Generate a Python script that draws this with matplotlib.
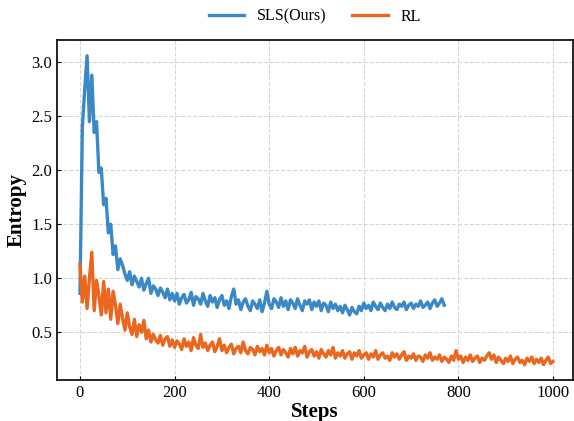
import numpy as np
import matplotlib
matplotlib.use("Agg")
import matplotlib.pyplot as plt

plt.rcParams["font.family"] = ["Liberation Serif", "DejaVu Serif"]

STEP = 5  # logging interval (training steps)

# policy entropy, SLS (ours)
sls_entropy = [
    0.86, 2.40, 2.75, 3.06, 2.45, 2.88, 2.35, 2.45, 1.98, 2.02,
    1.68, 1.74, 1.42, 1.50, 1.22, 1.30, 1.08, 1.18, 1.12, 1.04,
    0.98, 1.06, 0.94, 1.02, 0.97, 0.92, 1.00, 0.89, 0.95, 1.00,
    0.86, 0.93, 0.90, 0.84, 0.91, 0.87, 0.82, 0.90, 0.80, 0.86,
    0.79, 0.86, 0.76, 0.82, 0.85, 0.77, 0.80, 0.87, 0.75, 0.83,
    0.81, 0.76, 0.86, 0.79, 0.74, 0.84, 0.78, 0.82, 0.73, 0.80,
    0.84, 0.75, 0.79, 0.72, 0.83, 0.90, 0.76, 0.80, 0.71, 0.78,
    0.81, 0.74, 0.70, 0.79, 0.76, 0.72, 0.80, 0.69, 0.77, 0.88,
    0.76, 0.72, 0.81, 0.78, 0.73, 0.82, 0.74, 0.79, 0.71, 0.80,
    0.77, 0.72, 0.81, 0.75, 0.70, 0.79, 0.76, 0.80, 0.71, 0.78,
    0.74, 0.79, 0.70, 0.77, 0.75, 0.69, 0.78, 0.72, 0.76, 0.70,
    0.74, 0.68, 0.75, 0.71, 0.66, 0.73, 0.69, 0.67, 0.74, 0.70,
    0.77, 0.72, 0.75, 0.70, 0.78, 0.74, 0.71, 0.77, 0.73, 0.70,
    0.76, 0.72, 0.78, 0.73, 0.71, 0.76, 0.74, 0.78, 0.71, 0.75,
    0.77, 0.72, 0.76, 0.74, 0.79, 0.73, 0.75, 0.78, 0.72, 0.77,
    0.80, 0.74, 0.77, 0.81, 0.75,
]

# policy entropy, plain RL baseline
rl_entropy = [
    1.13, 0.78, 1.02, 0.72, 1.00, 1.24, 0.70, 0.98, 0.84, 0.66,
    0.97, 0.68, 0.90, 0.62, 0.88, 0.75, 0.58, 0.76, 0.63, 0.52,
    0.68, 0.55, 0.48, 0.62, 0.46, 0.57, 0.50, 0.61, 0.44, 0.52,
    0.41, 0.48, 0.43, 0.40, 0.47, 0.38, 0.44, 0.46, 0.37, 0.43,
    0.36, 0.42, 0.39, 0.34, 0.44, 0.37, 0.41, 0.33, 0.45, 0.38,
    0.35, 0.48, 0.36, 0.40, 0.33, 0.38, 0.41, 0.32, 0.37, 0.44,
    0.33, 0.38, 0.31, 0.36, 0.39, 0.30, 0.35, 0.37, 0.31, 0.41,
    0.33, 0.30, 0.36, 0.34, 0.29, 0.37, 0.32, 0.35, 0.29, 0.38,
    0.31, 0.35, 0.28, 0.33, 0.36, 0.29, 0.34, 0.31, 0.27, 0.35,
    0.30, 0.36, 0.28, 0.33, 0.31, 0.37, 0.27, 0.32, 0.34, 0.28,
    0.32, 0.26, 0.34, 0.30, 0.27, 0.33, 0.29, 0.36, 0.26, 0.31,
    0.28, 0.33, 0.26, 0.30, 0.32, 0.25, 0.31, 0.28, 0.33, 0.26,
    0.29, 0.31, 0.25, 0.30, 0.27, 0.33, 0.25, 0.29, 0.31, 0.26,
    0.28, 0.24, 0.31, 0.27, 0.30, 0.25, 0.29, 0.32, 0.24, 0.28,
    0.26, 0.30, 0.24, 0.28, 0.27, 0.23, 0.29, 0.26, 0.31, 0.24,
    0.27, 0.25, 0.29, 0.23, 0.27, 0.25, 0.22, 0.28, 0.24, 0.33,
    0.25, 0.28, 0.22, 0.27, 0.24, 0.29, 0.23, 0.26, 0.28, 0.22,
    0.26, 0.24, 0.28, 0.31, 0.25, 0.29, 0.22, 0.27, 0.24, 0.21,
    0.26, 0.23, 0.28, 0.21, 0.25, 0.27, 0.22, 0.24, 0.20, 0.26,
    0.23, 0.27, 0.21, 0.25, 0.22, 0.26, 0.20, 0.24, 0.27, 0.21,
    0.23,
]

SERIES = [("SLS(Ours)", sls_entropy, "#3a88c6"),
          ("RL", rl_entropy, "#eb661f")]

fig = plt.figure(figsize=(5.74, 4.21), dpi=100)
ax = fig.add_axes([0.0993, 0.0974, 0.899, 0.8076])

for label, vals, color in SERIES:
    steps = np.arange(len(vals)) * STEP
    ax.plot(steps, vals, color=color, lw=2.4, label=label)

ax.set_xlim(-48.6, 1042.3)
ax.set_ylim(0.058, 3.206)
ax.set_xticks([0, 200, 400, 600, 800, 1000])
ax.set_yticks([0.5, 1.0, 1.5, 2.0, 2.5, 3.0])
ax.tick_params(direction="in", labelsize=12, length=3, width=0.8)
ax.grid(True, ls="--", color="#d5d5d5", lw=0.8)
ax.set_axisbelow(True)
for sp in ax.spines.values():
    sp.set_linewidth(1.2)

ax.set_xlabel("Steps", fontsize=15, fontweight="bold", labelpad=1)
ax.set_ylabel("Entropy", fontsize=15, fontweight="bold", labelpad=3)

ax.legend(loc="center", bbox_to_anchor=(0.5, 1.068), ncol=2, frameon=False,
          fontsize=11.5, handlelength=2.2, columnspacing=1.6,
          handletextpad=0.8)

fig.savefig("out.png", dpi=100)
